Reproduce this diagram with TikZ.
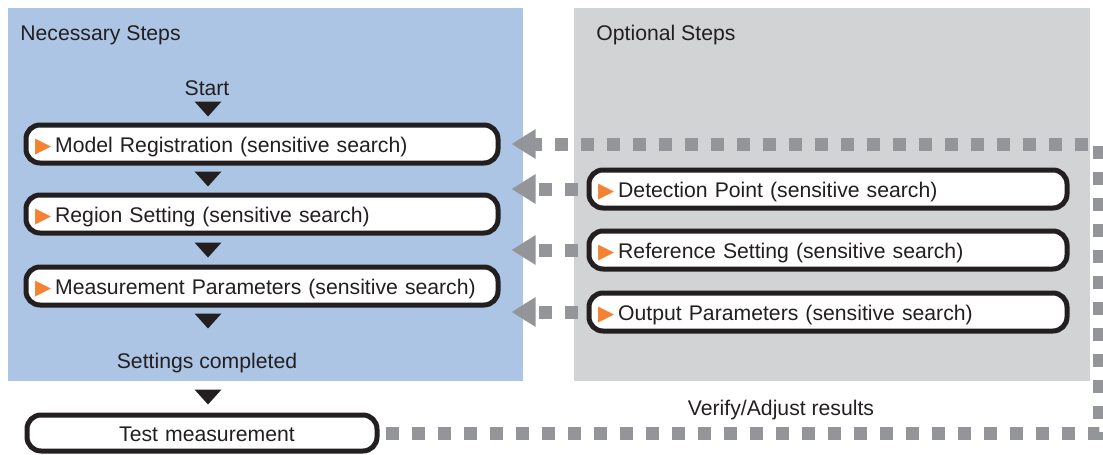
\documentclass[tikz,border=0pt]{standalone}
\usepackage{fontspec}
\setmainfont{Liberation Sans}
\newfontfamily\symfont{DejaVu Sans}
\usetikzlibrary{positioning,arrows.meta}
\definecolor{needblue}{RGB}{173,197,229}
\definecolor{optgray}{RGB}{209,211,212}
\definecolor{dotgray}{RGB}{147,149,152}
\definecolor{markorange}{RGB}{245,130,50}
\definecolor{boxline}{RGB}{35,31,32}
\newcommand{\optmark}{{\symfont\fontsize{10.5}{10}\selectfont\textcolor{markorange}{▶}}\hspace{2pt}}
\newcommand{\downmark}[1]{\fill[boxline] (#1) ++(-13.5,-7.5) -- ++(27,0) -- ++(-13.5,15) -- cycle;}
\tikzset{
  panel/.style={anchor=north west,inner sep=0pt,minimum height=186.5pt},
  title/.style={anchor=west,inner sep=0pt},
  stepbox/.style={draw=boxline,line width=2.5pt,rounded corners=7pt,fill=white,inner xsep=4.5pt,
    text height=8.5pt,text depth=0pt,minimum height=19pt,align=left},
  feedback/.style={draw=dotgray,line width=6.5pt,dash pattern=on 6.5pt off 6.5pt,-{Triangle[length=12pt,width=14pt]}},
}

\begin{document}
\begin{tikzpicture}[x=0.5pt,y=-0.5pt,font=\fontsize{10.6}{12.7}\selectfont,text=boxline]
        \useasboundingbox (0,0) rectangle (1103,455);
        \node[panel,fill=needblue,minimum width=257.5pt] (need) at (8,8) {};
        \node[panel,fill=optgray,minimum width=258pt] (opt) at (574,8) {};
        \node[title] (needtitle) at (20,35) {Necessary Steps};
        \node[title] (opttitle) at (596,35) {Optional Steps};

        \node (start) at (207,88) {Start};
        \node[stepbox,text width=227pt] (model) at (262,144) {\optmark Model Registration (sensitive search)};
        \node[stepbox,text width=227pt] (region) at (262,214) {\optmark Region Setting (sensitive search)};
        \node[stepbox,text width=227pt] (param) at (262,286) {\optmark Measurement Parameters (sensitive search)};
        \node (done) at (207,363) {Settings completed};
        \node[stepbox,align=center,text width=166pt,minimum height=18pt] (test) at (202,433) {\hspace*{5pt}Test measurement};

        \node[stepbox,text width=230pt] (detect) at (828,189) {\optmark Detection Point (sensitive search)};
        \node[stepbox,text width=230pt] (refer) at (828,250) {\optmark Reference Setting (sensitive search)};
        \node[stepbox,text width=230pt] (output) at (828,312) {\optmark Output Parameters (sensitive search)};
        \node (verify) at (781,410) {Verify/Adjust results};

        % flow marks
        \downmark{208,109}
        \downmark{208,179}
        \downmark{208,250}
        \downmark{208,321}
        \downmark{208,397}

        % back to the necessary steps
        \coordinate (turnlow) at (1099,433);
        \coordinate (turnhigh) at (1099,144);
        \draw[feedback,shorten <=3pt,shorten >=5.5pt] (test.east) -- (turnlow) -- (turnhigh) -- (model.east);
        \draw[feedback,shorten <=4.5pt,shorten >=5.5pt] (detect.west) -- (detect.west -| model.east);
        \draw[feedback,shorten <=4.5pt,shorten >=5.5pt] (refer.west) -- (refer.west -| model.east);
        \draw[feedback,shorten <=4.5pt,shorten >=5.5pt] (output.west) -- (output.west -| model.east);
    \end{tikzpicture}
\end{document}
